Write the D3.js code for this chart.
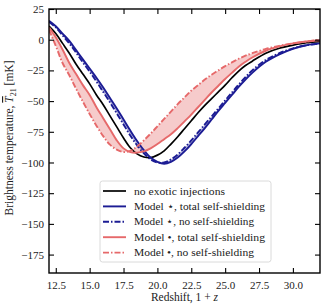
<!DOCTYPE html>
<html>
<head>
<meta charset="utf-8">
<script src="https://cdn.jsdelivr.net/npm/d3@7"></script>
<style>
  body { margin: 0; background: #fff; }
  svg { display: block; }
  svg text { font-family: "Liberation Serif", "DejaVu Serif", serif; }
</style>
</head>
<body>
<div id="chart"></div>
<script>
// redshift grid (1 + z)
const redshift = [12, 12.5, 13, 13.5, 14, 14.5, 15, 15.5, 16, 16.5, 17, 17.5, 18, 18.5, 19, 19.5,
  20, 20.5, 21, 21.5, 22, 22.5, 23, 23.5, 24, 24.5, 25, 25.5, 26, 26.5, 27, 28, 29, 30, 31, 32];

// brightness temperature [mK]
const noExotic = [11, 5, -3, -11, -20, -28, -36, -45, -53, -62, -71, -80, -88, -93, -95.5, -96,
  -94, -90.5, -85, -79, -72.5, -66, -59.5, -53.5, -48, -42.5, -37, -31, -25.5, -21, -17.5, -11, -7, -4.5, -2.5, -1.5];
const starTotal = [15.5, 11, 5, -1, -8.5, -16, -23.5, -31, -39, -47.5, -56, -65, -74, -82.5, -90, -96,
  -99.5, -101, -99.5, -96, -91, -85, -78.5, -72, -65, -58, -51.5, -45, -38.5, -32.5, -27, -18, -12, -7.5, -4.5, -3];
const starNone = [14.5, 10, 3.5, -3, -10.5, -18.5, -26, -34, -42.5, -51, -60, -69, -78, -86, -92.5, -97.5,
  -100, -100, -97.5, -93.5, -88, -82, -75.5, -69, -62.5, -56, -49.5, -43, -36.5, -30.5, -25, -16.5, -11, -7, -4.5, -3];
const dotTotal = [10, 2, -8, -19, -28, -37, -45, -55, -64, -73, -82, -88.5, -91.5, -92, -91, -88.5,
  -85, -81, -77, -72, -66.5, -61, -55, -49, -43, -37.5, -32, -27, -22, -18, -14.5, -9, -5.5, -3, -1.5, -0.5];
const dotNone = [8, -5, -19, -29, -40, -50.5, -60.5, -70, -78.5, -85.5, -89.5, -91.5, -90.5, -87, -82, -76.5,
  -70.5, -64.5, -58.5, -52.5, -47, -41.5, -37, -32.5, -28.5, -25, -21.5, -18.5, -15.5, -13, -11, -7.5, -5, -3, -1.5, 0];

const xTicks = [12.5, 15, 17.5, 20, 22.5, 25, 27.5, 30];
const yTicks = [25, 0, -25, -50, -75, -100, -125, -150, -175];

const legendLabels = [
  "no exotic injections",
  "Model \u22C6, total self-shielding",
  "Model \u22C6, no self-shielding",
  "Model \u2022, total self-shielding",
  "Model \u2022, no self-shielding"
];

const W = 325, H = 308;
const margin = { top: 9, right: 5, bottom: 35, left: 49 };
const NAVY = "#1c1c94", CORAL = "#e6696a";
const DASHDOT = "6,2,1.5,2";

const svg = d3.select("#chart").append("svg").attr("width", W).attr("height", H);

const x = d3.scaleLinear().domain([12, 32]).range([margin.left, W - margin.right]);
const y = d3.scaleLinear().domain([-190, 25]).range([H - margin.bottom, margin.top]);

svg.append("clipPath").attr("id", "plot-clip").append("rect")
  .attr("x", margin.left).attr("y", margin.top)
  .attr("width", W - margin.left - margin.right)
  .attr("height", H - margin.top - margin.bottom);

const plot = svg.append("g").attr("clip-path", "url(#plot-clip)");

const line = vals => d3.line()
  .x((d, i) => x(redshift[i]))
  .y(d => y(d))
  .curve(d3.curveCatmullRom)(vals);

const band = (a, b) => d3.area()
  .x((d, i) => x(redshift[i]))
  .y0((d, i) => y(a[i]))
  .y1((d, i) => y(b[i]))
  .curve(d3.curveCatmullRom)(redshift);

// shaded bands between total and no self-shielding
plot.append("path").attr("d", band(starTotal, starNone))
  .style("fill", NAVY).style("fill-opacity", 0.3);
plot.append("path").attr("d", band(dotTotal, dotNone))
  .style("fill", CORAL).style("fill-opacity", 0.35);

const series = [
  { vals: noExotic, color: "#000", dash: null, w: 1.7 },
  { vals: starTotal, color: NAVY, dash: null, w: 1.9 },
  { vals: starNone, color: NAVY, dash: DASHDOT, w: 1.9 },
  { vals: dotTotal, color: CORAL, dash: null, w: 1.9 },
  { vals: dotNone, color: CORAL, dash: DASHDOT, w: 1.9 }
];

plot.selectAll("path.series")
  .data(series)
  .join("path")
  .attr("class", "series")
  .attr("d", d => line(d.vals))
  .style("fill", "none")
  .style("stroke", d => d.color)
  .style("stroke-width", d => d.w)
  .style("stroke-dasharray", d => d.dash);

// axes, ticks inward on all four sides
const fmtY = d => d < 0 ? "\u2212" + Math.abs(d) : String(d);
const styleAxis = g => {
  g.attr("font-size", 11);
  g.select(".domain").remove();
  g.selectAll(".tick line").style("stroke", "#000").style("stroke-width", 1.1);
  g.selectAll(".tick text").style("fill", "#222");
};

svg.append("g")
  .attr("transform", `translate(0,${H - margin.bottom})`)
  .call(d3.axisBottom(x).tickValues(xTicks).tickFormat(d3.format(".1f")).tickSizeInner(-5).tickPadding(8))
  .call(styleAxis);
svg.append("g")
  .attr("transform", `translate(0,${margin.top})`)
  .call(d3.axisTop(x).tickValues(xTicks).tickFormat("").tickSizeInner(-5))
  .call(styleAxis);
svg.append("g")
  .attr("transform", `translate(${margin.left},0)`)
  .call(d3.axisLeft(y).tickValues(yTicks).tickFormat(fmtY).tickSizeInner(-5).tickPadding(5))
  .call(styleAxis);
svg.append("g")
  .attr("transform", `translate(${W - margin.right},0)`)
  .call(d3.axisRight(y).tickValues(yTicks).tickFormat("").tickSizeInner(-5))
  .call(styleAxis);

// frame
svg.append("rect")
  .attr("x", margin.left).attr("y", margin.top)
  .attr("width", W - margin.left - margin.right)
  .attr("height", H - margin.top - margin.bottom)
  .style("fill", "none").style("stroke", "#000").style("stroke-width", 1.4);

// axis labels
svg.append("text")
  .attr("x", x(22)).attr("y", 301)
  .attr("text-anchor", "middle")
  .style("font-size", "11.5px").style("fill", "#222")
  .html("Redshift, 1 + <tspan font-style='italic'>z</tspan>");

const yl = svg.append("text")
  .attr("transform", `translate(13,${y(-80)}) rotate(-90)`)
  .attr("text-anchor", "middle")
  .style("font-size", "11.5px").style("fill", "#222");
yl.append("tspan").text("Brightness temperature, ");
yl.append("tspan").attr("font-style", "italic").attr("text-decoration", "overline").text("T");
yl.append("tspan").attr("font-size", "8px").attr("dy", 3).text("21");
yl.append("tspan").attr("dy", -3).text(" [mK]");

// legend
const lg = svg.append("g").attr("transform", "translate(100,181)");
lg.append("rect")
  .attr("width", 171).attr("height", 81).attr("rx", 2.5)
  .style("fill", "#fff").style("fill-opacity", 0.85)
  .style("stroke", "#d6d6d6").style("stroke-width", 0.9);

const item = lg.selectAll("g.item")
  .data(series)
  .join("g")
  .attr("class", "item")
  .attr("transform", (d, i) => `translate(0,${10 + i * 15.4})`);

item.append("line")
  .attr("x1", 3).attr("x2", 26)
  .style("stroke", d => d.color)
  .style("stroke-width", d => d.w)
  .style("stroke-dasharray", d => d.dash);

item.append("text")
  .attr("x", 34).attr("dy", "0.33em")
  .style("font-size", "10.8px").style("fill", "#222")
  .attr("textLength", (d, i) => i === 0 ? 91 : (i % 2 ? 131 : 120))
  .attr("lengthAdjust", "spacingAndGlyphs")
  .text((d, i) => legendLabels[i]);
</script>
</body>
</html>
